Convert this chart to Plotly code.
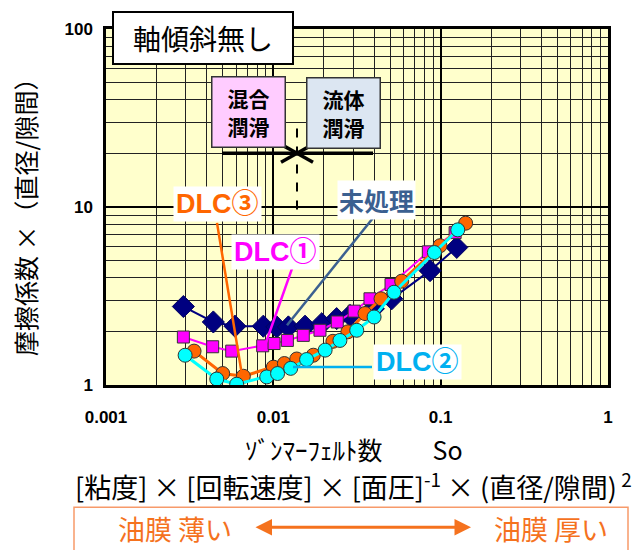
import plotly.graph_objects as go

# ゾンマーフェルト数 So と 摩擦係数×(直径/隙間)
so_untreated = [0.0029, 0.00438, 0.0059, 0.00871, 0.01048, 0.0123, 0.01547,
                0.01947, 0.0239, 0.0287, 0.0396, 0.051, 0.0864, 0.1248]
mu_untreated = [2.76, 2.26, 2.14, 2.14, 2.12, 2.12, 2.14,
                2.21, 2.36, 2.46, 2.68, 3.05, 4.39, 5.93]

so_dlc1 = [0.0029, 0.00434, 0.00564, 0.00864, 0.0101, 0.01213, 0.0151,
           0.019, 0.0241, 0.0304, 0.0378, 0.0505, 0.0844, 0.122]
mu_dlc1 = [1.86, 1.64, 1.55, 1.66, 1.71, 1.78, 1.9,
           2.03, 2.26, 2.6, 3.05, 3.67, 5.6, 7.18]

so_dlc2 = [0.00297, 0.00459, 0.00604, 0.00913, 0.0106, 0.0127, 0.0158,
           0.0204, 0.025, 0.0315, 0.04, 0.0526, 0.0917, 0.1265]
mu_dlc2 = [1.47, 1.08, 1.01, 1.11, 1.16, 1.24, 1.39,
           1.57, 1.78, 2.03, 2.41, 3.32, 5.55, 7.44]

so_dlc3 = [0.00336, 0.00498, 0.00662, 0.01, 0.01164, 0.0138, 0.01734,
           0.0227, 0.0279, 0.0353, 0.044, 0.0585, 0.0991, 0.141]
mu_dlc3 = [1.55, 1.16, 1.12, 1.26, 1.32, 1.4, 1.47,
           1.76, 1.99, 2.52, 3.05, 3.83, 6.06, 8.11]

x_ticks = [0.001, 0.01, 0.1, 1]
x_tick_labels = ["0.001", "0.01", "0.1", "1"]
y_ticks = [1, 10, 100]
y_tick_labels = ["1", "10", "100"]

JP = "Noto Sans CJK JP"
LAT = "Liberation Sans, Noto Sans CJK JP"

# page body has an 8px margin, so the figure is a bit smaller than the window
OFF = 8
W, H = 644 - OFF, 550 - OFF
# plot area in window pixels (for placing decorations)
L, R, T, B = 106, 608, 27, 385


def px(x):
    return (x - L) / (R - L)


def py(y):
    return (B - y) / (B - T)


fig = go.Figure()

fig.add_trace(go.Scatter(
    x=so_untreated, y=mu_untreated, mode="lines+markers",
    line=dict(color="#000080", width=2),
    marker=dict(symbol="diamond", size=17, color="#000080",
                line=dict(color="#000060", width=1))))
fig.add_trace(go.Scatter(
    x=so_dlc1, y=mu_dlc1, mode="lines+markers",
    line=dict(color="#FF00FF", width=2),
    marker=dict(symbol="square", size=12, color="#FF00FF",
                line=dict(color="#333333", width=1))))
fig.add_trace(go.Scatter(
    x=so_dlc3, y=mu_dlc3, mode="lines+markers",
    line=dict(color="#FF6600", width=3),
    marker=dict(symbol="circle", size=14, color="#FF6600",
                line=dict(color="#333333", width=1))))
fig.add_trace(go.Scatter(
    x=so_dlc2, y=mu_dlc2, mode="lines+markers",
    line=dict(color="#00FFFF", width=3),
    marker=dict(symbol="circle", size=14, color="#00FFFF",
                line=dict(color="#333333", width=1))))

minor_x = [m * 10 ** e for e in (-3, -2, -1) for m in range(2, 10)]
minor_y = [m * 10 ** e for e in (0, 1) for m in range(2, 10)]

shapes = []
# leader lines
leaders = [
    ((217, 222), (242, 375), "#FF6600", 2.5),
    ((292, 268), (265, 345), "#FF00FF", 2.5),
    ((373, 217), (287, 325), "#3B6090", 2.5),
    ((293, 367), (372, 367), "#00B0F0", 2.5),
]
for (x0, y0), (x1, y1), c, w in leaders:
    shapes.append(dict(type="line", xref="paper", yref="paper",
                       x0=px(x0), y0=py(y0), x1=px(x1), y1=py(y1),
                       line=dict(color=c, width=w)))

# 混合/流体 boundary arrows
for seg in [((222, 152), (297, 152)), ((297, 152), (373, 152)),
            ((281, 143), (297, 152)), ((281, 161), (297, 152)),
            ((313, 143), (297, 152)), ((313, 161), (297, 152))]:
    (x0, y0), (x1, y1) = seg
    shapes.append(dict(type="line", xref="paper", yref="paper",
                       x0=px(x0), y0=py(y0), x1=px(x1), y1=py(y1),
                       line=dict(color="black", width=3.5)))
shapes.append(dict(type="line", xref="paper", yref="paper",
                   x0=px(297), y0=py(127), x1=px(297), y1=py(216),
                   line=dict(color="black", width=2, dash="dash")))
# orange box at bottom
shapes.append(dict(type="rect", xref="paper", yref="paper",
                   x0=px(74), y0=py(508), x1=px(628), y1=py(570),
                   line=dict(color="#F79A6A", width=1.5)))

annotations = [
    dict(x=px(203), y=py(36), text="軸傾斜無し", width=176, height=48,
         font=dict(family=JP, size=28, color="black"),
         bgcolor="white", bordercolor="black", borderwidth=2, borderpad=1),
    dict(x=px(248), y=py(110), text="<b>混合<br>潤滑</b>", width=70, height=67,
         font=dict(family=JP, size=21, color="black"),
         bgcolor="#FFCCFF", bordercolor="#333333", borderwidth=1.5, borderpad=1),
    dict(x=px(343), y=py(111), text="<b>流体<br>潤滑</b>", width=70, height=67,
         font=dict(family=JP, size=21, color="black"),
         bgcolor="#DCE6F2", bordercolor="#333333", borderwidth=1.5, borderpad=1),
    dict(x=px(217), y=py(203), text="<b>DLC③</b>",
         font=dict(family=LAT, size=27, color="#FF6600"),
         bgcolor="white", borderpad=2),
    dict(x=px(275), y=py(251), text="<b>DLC①</b>",
         font=dict(family=LAT, size=27, color="#FF00FF"),
         bgcolor="white", borderpad=2),
    dict(x=px(376), y=py(199), text="<b>未処理</b>",
         font=dict(family=JP, size=25, color="#3B6090"),
         bgcolor="white", borderpad=1),
    dict(x=px(417), y=py(362), text="<b>DLC②</b>",
         font=dict(family=LAT, size=27, color="#00B0F0"),
         bgcolor="white", borderpad=2),
    # axis titles
    dict(x=px(25), y=py(210), text="摩擦係数 ×（直径/隙間）", textangle=-90,
         font=dict(family=JP, size=25, color="black")),
    dict(x=px(354), y=py(449), text="ｿﾞﾝﾏｰﾌｪﾙﾄ数　　So",
         font=dict(family=JP, size=25, color="black")),
    dict(x=px(353), y=py(486),
         text="[粘度] × [回転速度] × [面圧]<sup>-1</sup> × (直径/隙間)<sup> 2</sup>",
         font=dict(family=JP, size=27, color="black")),
    dict(x=px(175), y=py(529), text="油膜 薄い",
         font=dict(family=JP, size=27, color="#F5721E")),
    dict(x=px(551), y=py(529), text="油膜 厚い",
         font=dict(family=JP, size=27, color="#F5721E")),
    dict(x=px(471), y=py(528), ax=-(471 - 254), ay=0,
         text="", showarrow=True,
         arrowhead=2, arrowside="end+start", arrowsize=1.1,
         arrowwidth=3, arrowcolor="#F5721E"),
]
for a in annotations:
    a.setdefault("xref", "paper")
    a.setdefault("yref", "paper")
    a.setdefault("xanchor", "center")
    a.setdefault("yanchor", "middle")
    a.setdefault("showarrow", False)

fig.update_layout(
    width=W, height=H,
    margin=dict(l=L - OFF, r=W - (R - OFF), t=T - OFF, b=H - (B - OFF)),
    paper_bgcolor="white", plot_bgcolor="#FFFFCC",
    showlegend=False,
    shapes=shapes, annotations=annotations,
    xaxis=dict(type="log", range=[-3, 0], tickvals=x_ticks, ticktext=x_tick_labels,
               showgrid=True, gridcolor="black", gridwidth=1.5,
               minor=dict(tickvals=minor_x, showgrid=True, gridcolor="#222222", gridwidth=1.2),
               showline=True, linecolor="black", linewidth=2.5, mirror=True,
               ticks="", ticklabelstandoff=15,
               tickfont=dict(family="Liberation Sans", size=17, color="black", weight="bold"),
               zeroline=False),
    yaxis=dict(type="log", range=[0, 2], tickvals=y_ticks, ticktext=y_tick_labels,
               showgrid=True, gridcolor="black", gridwidth=1.5,
               minor=dict(tickvals=minor_y, showgrid=True, gridcolor="#222222", gridwidth=1.2),
               showline=True, linecolor="black", linewidth=2.5, mirror=True,
               ticks="", ticklabelstandoff=7,
               tickfont=dict(family="Liberation Sans", size=17, color="black", weight="bold"),
               zeroline=False),
)

fig.write_html("out.html")
